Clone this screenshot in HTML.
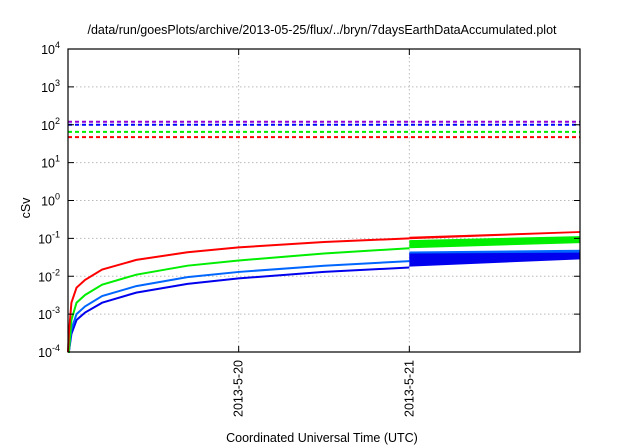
<!DOCTYPE html>
<html><head><meta charset="utf-8"><style>
body{margin:0;background:#fff}
svg{display:block;font-family:"Liberation Sans",sans-serif}
</style></head><body>
<svg id="chart" width="640" height="448" viewBox="0 0 640 448">
<rect width="640" height="448" fill="#fff"/>
<text x="322" y="34" font-size="12.5" text-anchor="middle">/data/run/goesPlots/archive/2013-05-25/flux/../bryn/7daysEarthDataAccumulated.plot</text>
<text x="322" y="442" font-size="12.5" text-anchor="middle">Coordinated Universal Time (UTC)</text>
<text x="30" y="208" font-size="12.5" text-anchor="middle" transform="rotate(-90 30 208)">cSv</text>
<g id="grid"></g><g id="marks"></g><g id="axes"></g>
</svg>
<script>
const yExps=[-4,-3,-2,-1,0,1,2,3,4];
const xTickDays=[1,2];
const xTickLabels=["2013-5-20","2013-5-21"];
const times=[0.005,0.02,0.05,0.1,0.2,0.4,0.7,1,1.5,2];
const redVals=[0.0003,0.002,0.005,0.008,0.015,0.027,0.043,0.058,0.08,0.1];
const greenVals=[0.0001,0.0007,0.002,0.0032,0.006,0.011,0.019,0.026,0.04,0.055];
const lightBlueVals=[0.0001,0.0004,0.001,0.0016,0.003,0.0055,0.0095,0.013,0.019,0.025];
const darkBlueVals=[0.0001,0.0003,0.0007,0.0011,0.002,0.0037,0.0063,0.0088,0.013,0.017];
const bandTimes=[2,3];
const redLo=[0.095,0.14], redHi=[0.11,0.155];
const greenLo=[0.055,0.075], greenHi=[0.09,0.115];
const lightBlueLo=[0.025,0.032], lightBlueHi=[0.045,0.05];
const darkBlueLo=[0.018,0.028], darkBlueHi=[0.04,0.042];
const limitVals=[120,100,65,47];
const limitNames=["limit-purple","limit-blue","limit-green","limit-red"];
const limitColors=["#9400d3","#0000ff","#00ee00","#ff0000"];

const L=68,R=580,T=49,B=352;
const X=d=>L+(R-L)*d/3;
const Y=v=>B-(Math.log10(v)+4)*(B-T)/8;
const NS="http://www.w3.org/2000/svg";
function mk(tag,attrs,parent,txt){const e=document.createElementNS(NS,tag);for(const k in attrs)e.setAttribute(k,attrs[k]);if(txt!==undefined)e.textContent=txt;parent.appendChild(e);return e;}
const grid=document.getElementById('grid'),marks=document.getElementById('marks'),axes=document.getElementById('axes');
yExps.forEach(e=>{const y=Y(Math.pow(10,e));
 if(e>-4&&e<4){const g=mk('line',{x1:L,x2:R,y1:y,y2:y,stroke:'#bbb','stroke-dasharray':'1.5,2.5','stroke-width':1},grid);
 }
 const t1=mk('line',{x1:L,x2:L+6,y1:y,y2:y,stroke:'#000'},axes);
 const t2=mk('line',{x1:R-6,x2:R,y1:y,y2:y,stroke:'#000'},axes);
 const tx=mk('text',{x:L-8,y:y+5,'font-size':12.5,'text-anchor':'end'},axes);
 
 tx.textContent='10';const s=mk('tspan',{dy:-6,'font-size':9},tx,String(e));});
xTickDays.forEach((d,i)=>{const x=X(d);
 const g=mk('line',{x1:x,x2:x,y1:T,y2:B,stroke:'#bbb','stroke-dasharray':'1.5,2.5'},grid);
 
 const t=mk('line',{x1:x,x2:x,y1:B-6,y2:B,stroke:'#000'},axes);
 const tt=mk('line',{x1:x,x2:x,y1:T,y2:T+6,stroke:'#000'},axes);
 const tx=mk('text',{x:x+4,y:360,'font-size':12.5,'text-anchor':'end',transform:`rotate(-90 ${x+4} 360)`},axes,xTickLabels[i]);
 });
limitVals.forEach((v,i)=>{const l=mk('line',{x1:L,x2:R,y1:Y(v),y2:Y(v),stroke:limitColors[i],'stroke-width':2,'stroke-dasharray':'4,3'},marks);
 });
function band(lo,hi,color,name){let d='';bandTimes.forEach((t,i)=>{d+=(i?'L':'M')+X(t)+','+Y(hi[i]);});
 for(let i=bandTimes.length-1;i>=0;i--)d+='L'+X(bandTimes[i])+','+Y(lo[i]);
 const p=mk('path',{d:d+'Z',fill:color},marks);}
function line(vals,color,name){const pts=[[X(0),B]].concat(times.map((t,i)=>[X(t),Y(vals[i])]));
 const p=mk('polyline',{points:pts.map(p=>p.join(',')).join(' '),fill:'none',stroke:color,'stroke-width':2},marks);
 }
line(darkBlueVals,'#0000ee','series-dark-blue');
line(lightBlueVals,'#0066ff','series-light-blue');
line(greenVals,'#00ee00','series-green');
line(redVals,'#ff0000','series-red');
band(lightBlueLo,lightBlueHi,'#0066ff','band-light-blue');
band(darkBlueLo,darkBlueHi,'#0000ee','band-dark-blue');
band(greenLo,greenHi,'#00ee00','band-green');
band(redLo,redHi,'#ff0000','band-red');
const fr=mk('rect',{x:L,y:T,width:R-L,height:B-T,fill:'none',stroke:'#000','stroke-width':1.2},axes);

</script>
</body></html>
